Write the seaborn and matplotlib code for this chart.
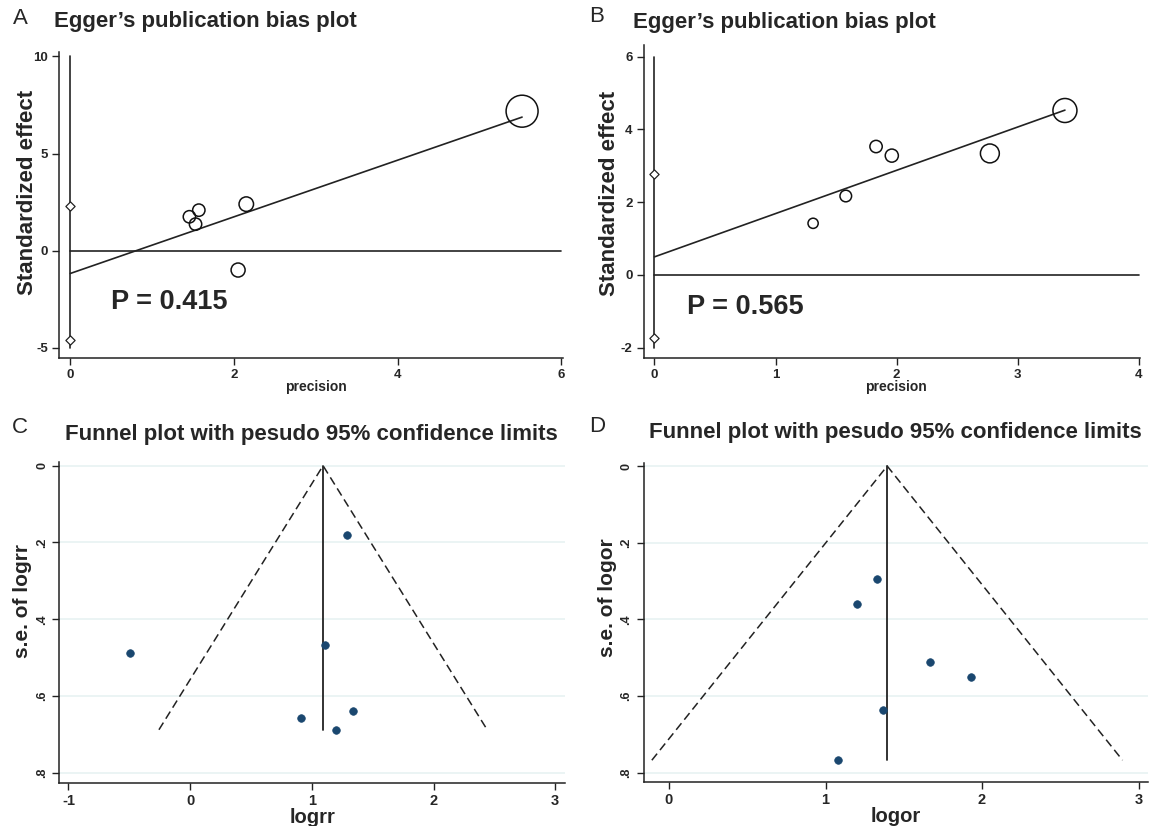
import numpy as np
import pandas as pd
import matplotlib
matplotlib.use("Agg")
import matplotlib.pyplot as plt
import seaborn as sns

# ---------------------------------------------------------------
# data
# ---------------------------------------------------------------

# A - Egger plot (precision vs standardized effect)
egger_a_prec = [1.455, 1.53, 1.57, 2.05, 2.15, 5.52]
egger_a_snd = [1.75, 1.37, 2.09, -0.99, 2.40, 7.18]
egger_a_weight = [7.9, 7.9, 7.9, 10.2, 10.9, 53.0]
egger_a_ci = [-4.59, 2.31]
egger_a_p = "P = 0.415"

# B - Egger plot
egger_b_prec = [1.31, 1.58, 1.83, 1.96, 2.77, 3.39]
egger_b_snd = [1.42, 2.17, 3.53, 3.28, 3.34, 4.52]
egger_b_weight = [5.4, 7.0, 7.9, 8.9, 18.5, 29.9]
egger_b_ci = [-1.74, 2.77]
egger_b_p = "P = 0.565"

# C - funnel plot, logrr
funnel_c_est = [1.29, 1.11, -0.494, 1.34, 0.91, 1.20]
funnel_c_se = [0.180, 0.468, 0.488, 0.640, 0.658, 0.688]
funnel_c_pooled = 1.092

# D - funnel plot, logor
funnel_d_est = [1.327, 1.198, 1.666, 1.927, 1.367, 1.082]
funnel_d_se = [0.295, 0.361, 0.510, 0.549, 0.635, 0.767]
funnel_d_pooled = 1.394

egger_title = "Egger\u2019s publication bias plot"
funnel_title = "Funnel plot with pesudo 95% confidence limits"

sns.set_theme(style="white")
plt.rcParams["font.family"] = ["Liberation Sans", "DejaVu Sans"]
plt.rcParams["axes.unicode_minus"] = False

W, H = 1150, 826
fig = plt.figure(figsize=(W / 100, H / 100), dpi=100)


def px_axes(left, right, top, bottom):
    return fig.add_axes([left / W, 1 - bottom / H, (right - left) / W, (bottom - top) / H])


def style_axes(ax, xtick_size, ytick_size):
    sns.despine(ax=ax)
    for s in ["left", "bottom"]:
        ax.spines[s].set_color("#222222")
        ax.spines[s].set_linewidth(1.1)
    ax.tick_params(direction="out", length=5, width=1, color="#222222",
                   left=True, bottom=True, pad=3)
    ax.tick_params(axis="x", labelsize=xtick_size)
    ax.tick_params(axis="y", labelsize=ytick_size)
    for lab in ax.get_xticklabels() + ax.get_yticklabels():
        lab.set_fontweight("bold")


def egger_panel(ax, prec, snd, weight, ci, ptxt, xlim, ylim, xticks, yticks,
                sizes, ptxt_pos, ylab_xy, xlab_xy):
    df = pd.DataFrame({"precision": prec, "snd": snd, "w": weight})
    yt_lo, yt_hi = yticks[0], yticks[-1]
    ax.plot([0, 0], [yt_lo, yt_hi], color="#222222", lw=1.2, zorder=1)
    ax.plot([0, xticks[-1]], [0, 0], color="#222222", lw=1.2, zorder=1)
    ax.scatter([0, 0], ci, marker="D", s=22, facecolor="white",
               edgecolor="#222222", linewidth=0.9, zorder=3)
    slope, icpt = np.polyfit(df["precision"], df["snd"], 1)
    xs = np.array([0, df["precision"].max()])
    ax.plot(xs, icpt + slope * xs, color="#222222", lw=1.2, zorder=2)
    sns.scatterplot(data=df, x="precision", y="snd", size="w", sizes=sizes,
                    facecolor="none", edgecolor="#111111", linewidth=1.1,
                    legend=False, ax=ax, zorder=4)
    ax.set_xlim(*xlim)
    ax.set_ylim(*ylim)
    ax.set_xticks(xticks)
    ax.set_yticks(yticks)
    ax.set_xlabel("precision", fontsize=10, fontweight="bold", va="center")
    ax.set_ylabel("Standardized effect", fontsize=16, fontweight="bold", va="center")
    ax.yaxis.set_label_coords(*ylab_xy)
    ax.xaxis.set_label_coords(*xlab_xy)
    ax.text(ptxt_pos[0], ptxt_pos[1], ptxt, fontsize=19.5, fontweight="bold",
            ha="left", va="center")
    style_axes(ax, 9.5, 9.5)


def funnel_panel(ax, est, se, pooled, xlab, ylab, xlim, ylim, xticks, ylab_xy, xlab_xy):
    df = pd.DataFrame({"est": est, "se": se})
    yticks = [0, 0.2, 0.4, 0.6, 0.8]
    for y in yticks:
        ax.axhline(y, color="#e8f2f2", lw=1.2, zorder=0)
    se_max = df["se"].max()
    ax.plot([pooled - 1.96 * se_max, pooled, pooled + 1.96 * se_max],
            [se_max, 0, se_max], color="#222222", lw=1.1, ls=(0, (5.5, 3)), zorder=1)
    ax.plot([pooled, pooled], [0, se_max], color="#222222", lw=1.3, zorder=2)
    sns.scatterplot(data=df, x="est", y="se", color="#1a476f", edgecolor="#1a476f",
                    s=30, linewidth=0.5, legend=False, ax=ax, zorder=3)
    ax.set_xlim(*xlim)
    ax.set_ylim(*ylim)
    ax.set_xticks(xticks)
    ax.set_yticks(yticks)
    ax.set_yticklabels(["0", ".2", ".4", ".6", ".8"], rotation=90, va="center")
    ax.set_xlabel(xlab, fontsize=14.5, fontweight="bold", va="center")
    ax.set_ylabel(ylab, fontsize=15, fontweight="bold", va="center")
    ax.yaxis.set_label_coords(*ylab_xy)
    ax.xaxis.set_label_coords(*xlab_xy)
    style_axes(ax, 10.5, 9)


ax_a = px_axes(59.2, 563, 51.7, 358.3)
egger_panel(ax_a, egger_a_prec, egger_a_snd, egger_a_weight, egger_a_ci, egger_a_p,
            (-0.136, 6.02), (-5.53, 10.24), [0, 2, 4, 6], [-5, 0, 5, 10],
            (79, 530), (0.50, -2.62), (-0.0625, 0.54), (0.51, -0.093))

ax_b = px_axes(643.6, 1140, 45, 358.3)
egger_panel(ax_b, egger_b_prec, egger_b_snd, egger_b_weight, egger_b_ci, egger_b_p,
            (-0.09, 4.01), (-2.29, 6.32), [0, 1, 2, 3, 4], [-2, 0, 2, 4, 6],
            (54, 299), (0.27, -0.87), (-0.0697, 0.527), (0.509, -0.091))

ax_c = px_axes(59.2, 565, 461.7, 782.7)
funnel_panel(ax_c, funnel_c_est, funnel_c_se, funnel_c_pooled, "logrr", "s.e. of logrr",
             (-1.076, 3.08), (0.826, -0.0104), [-1, 0, 1, 2, 3],
             (-0.0735, 0.567), (0.501, -0.107))

ax_d = px_axes(643.6, 1148, 462.7, 781.7)
funnel_panel(ax_d, funnel_d_est, funnel_d_se, funnel_d_pooled, "logor", "s.e. of logor",
             (-0.162, 3.06), (0.823, -0.0087), [0, 1, 2, 3],
             (-0.071, 0.576), (0.4994, -0.109))

# panel titles and letters
for x, y, txt in [(53.6, 21.7, egger_title), (632.7, 22.7, egger_title),
                  (64.7, 435, funnel_title), (649, 432.7, funnel_title)]:
    fig.text(x / W, 1 - y / H, txt, fontsize=16, fontweight="bold", ha="left", va="center")

for x, y, txt in [(20, 18, "A"), (597, 17, "B"), (19.5, 427.5, "C"), (597, 427, "D")]:
    fig.text(x / W, 1 - y / H, txt, fontsize=16, ha="center", va="center")

fig.savefig("out.png", dpi=100, facecolor="white")
